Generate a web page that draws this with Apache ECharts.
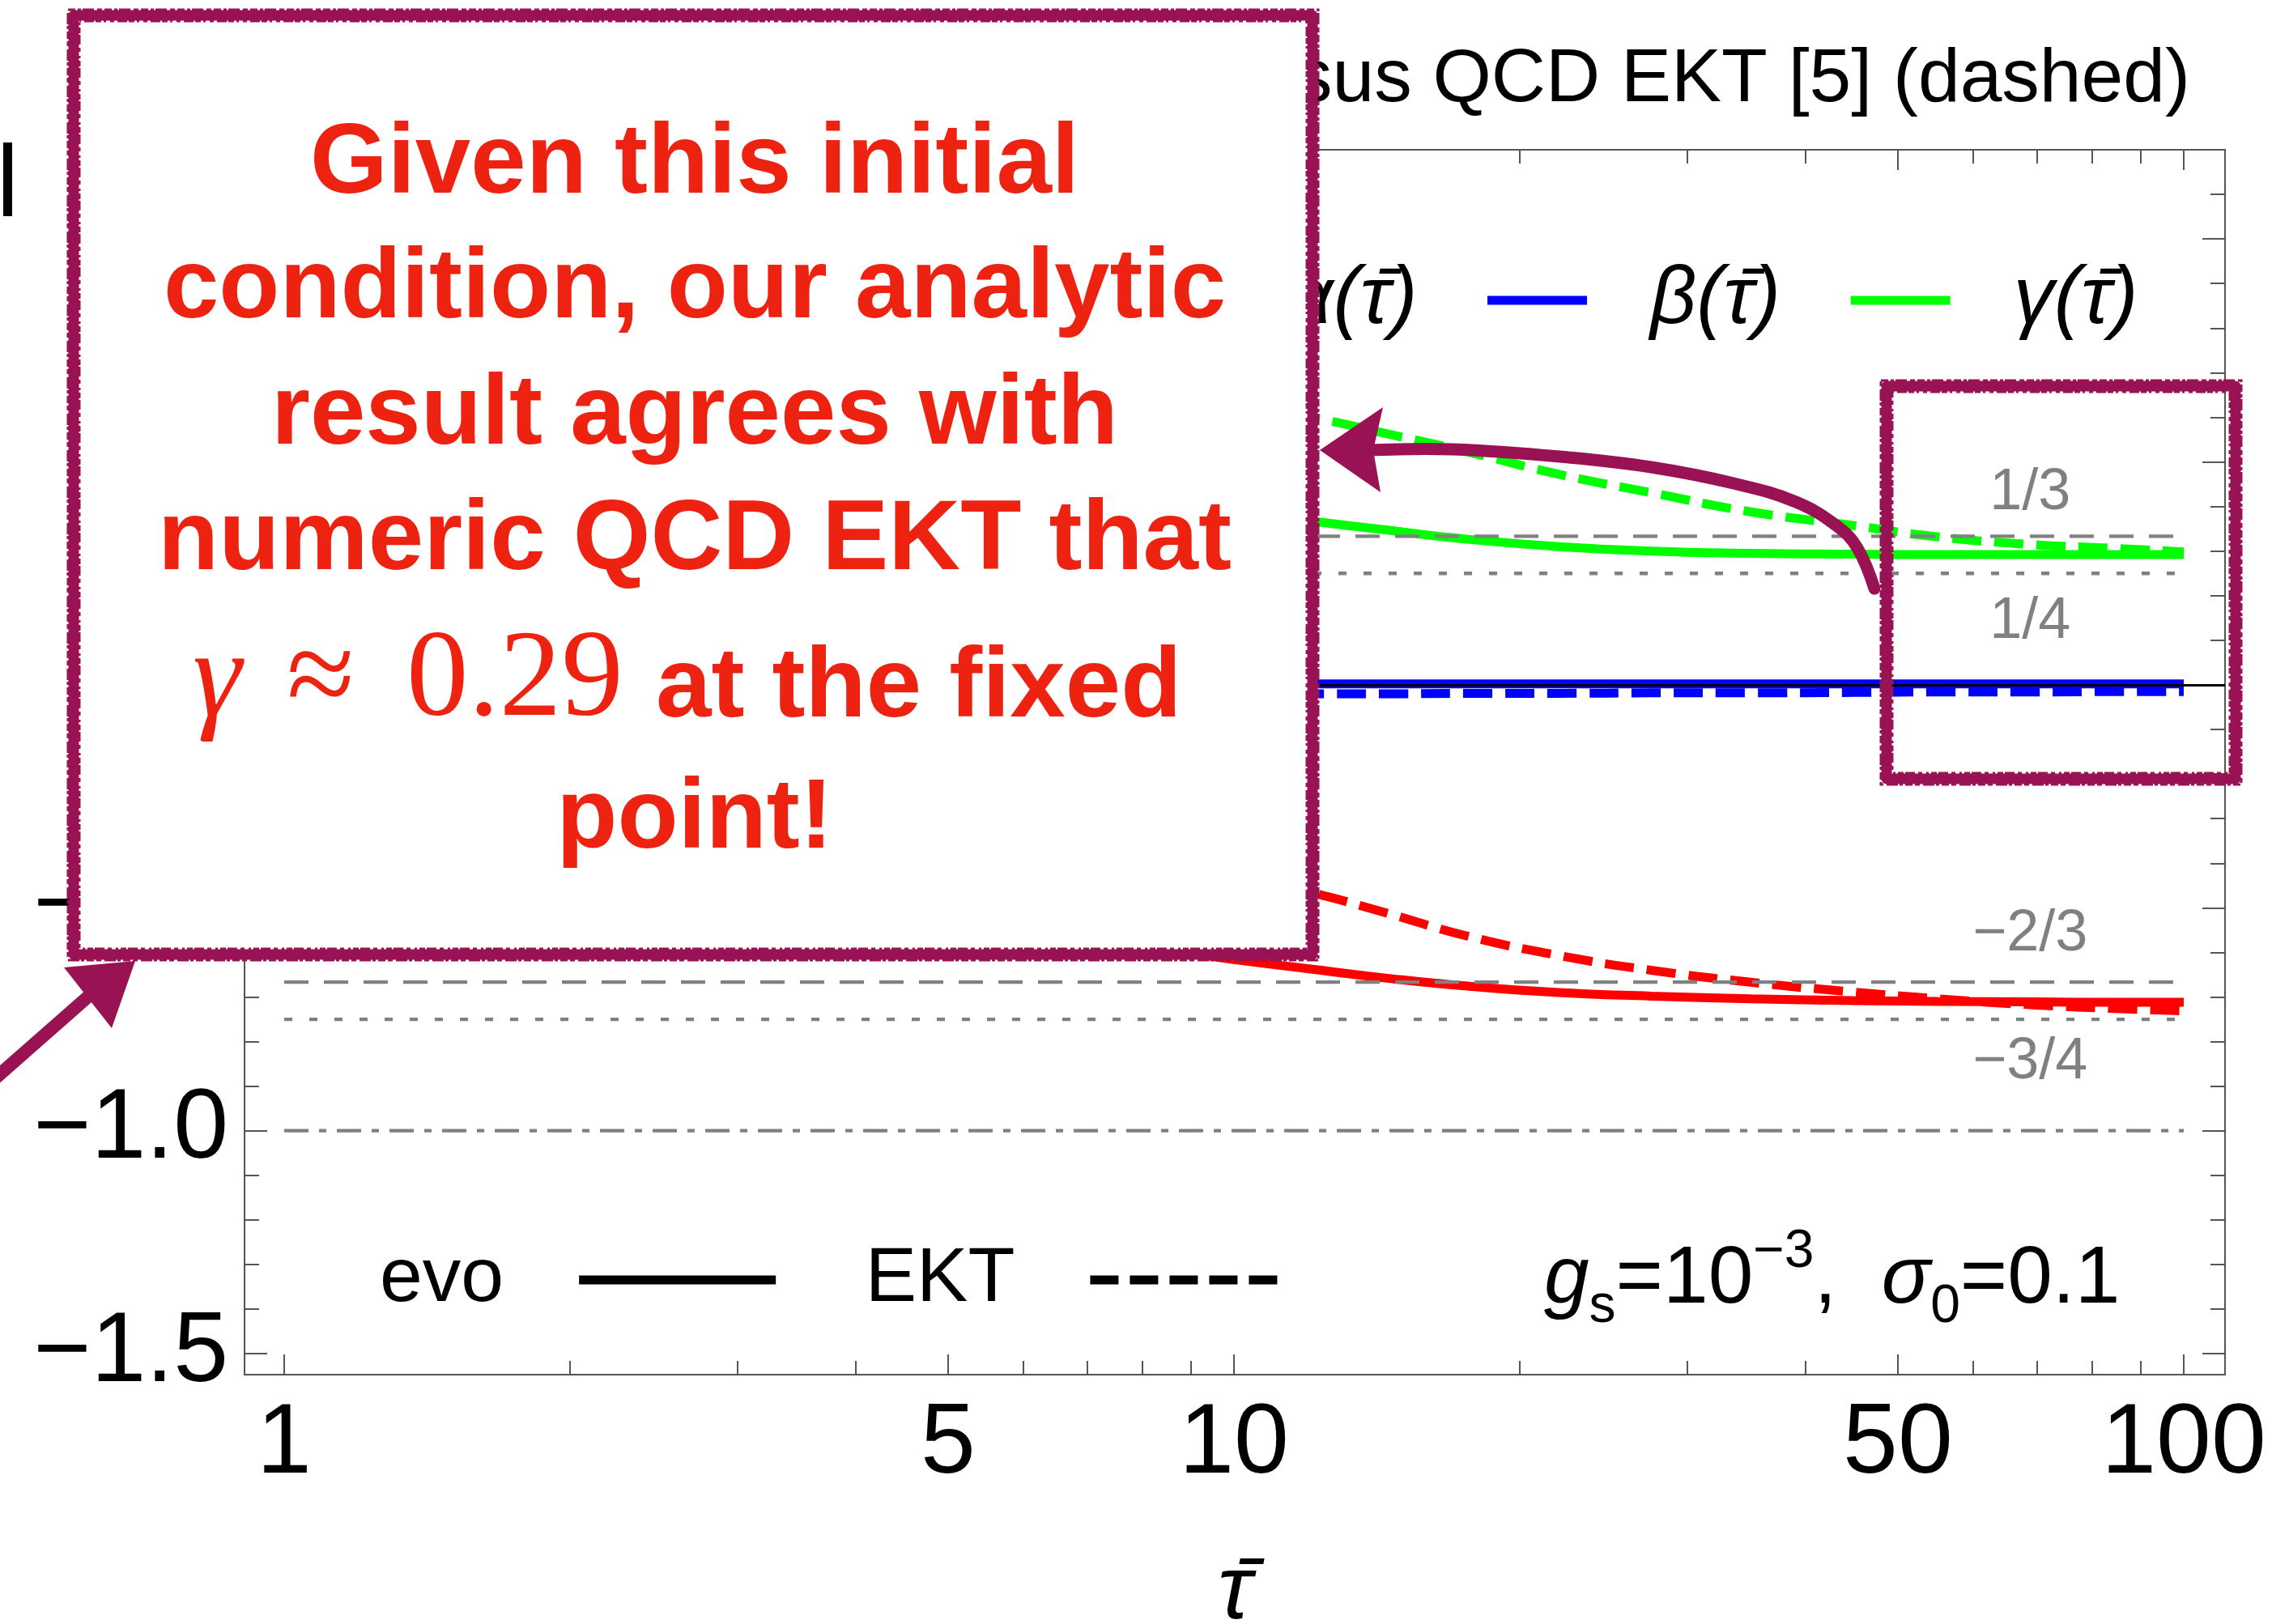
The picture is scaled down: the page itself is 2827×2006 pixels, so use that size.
<!DOCTYPE html>
<html>
<head>
<meta charset="utf-8">
<script src="https://cdn.jsdelivr.net/npm/echarts@6/dist/echarts.min.js"></script>
<style>
  html, body { margin: 0; padding: 0; background: #ffffff; }
  #chart { width: 2827px; height: 2006px; }
</style>
</head>
<body>
<div id="chart"></div>
<script>
// ---- data ---------------------------------------------------------------
// proper time grid (τ̄) shared by all curves
const tau = [1, 2, 4, 6, 8, 10, 12, 14.5, 17.5, 22, 27.5, 35, 45, 55, 70, 85, 100];

// scaling exponents from the evolution equations (solid)
const alphaEvo = [-0.30, -0.42, -0.52, -0.56, -0.588, -0.616, -0.637, -0.658, -0.675, -0.690, -0.698, -0.704, -0.708, -0.710, -0.711, -0.712, -0.712];
const betaEvo  = [0.002, 0.002, 0.002, 0.002, 0.002, 0.002, 0.002, 0.002, 0.002, 0.002, 0.002, 0.002, 0.002, 0.002, 0.002, 0.002, 0.002];
const gammaEvo = [0.62, 0.58, 0.52, 0.46, 0.42, 0.39, 0.368, 0.347, 0.327, 0.310, 0.300, 0.295, 0.293, 0.292, 0.292, 0.292, 0.292];

// scaling exponents from QCD EKT (dashed)
const alphaEkt = [-0.05, -0.12, -0.25, -0.33, -0.39, -0.43, -0.465, -0.512, -0.562, -0.607, -0.640, -0.667, -0.689, -0.704, -0.718, -0.726, -0.731];
const betaEkt  = [-0.020, -0.020, -0.020, -0.020, -0.020, -0.020, -0.020, -0.020, -0.019, -0.019, -0.018, -0.018, -0.017, -0.016, -0.016, -0.015, -0.015];
const gammaEkt = [0.80, 0.76, 0.71, 0.67, 0.64, 0.62, 0.600, 0.563, 0.524, 0.472, 0.431, 0.388, 0.357, 0.332, 0.314, 0.306, 0.298];

// reference exponents
const levelValues = [1 / 3, 1 / 4, -2 / 3, -3 / 4, -1];
const levelLabels = ['1/3', '1/4', '\u22122/3', '\u22123/4', ''];
const levelTauRange = [1, 100];
const levelLabelTau = 68.9;

// ticks
const xMajorTicks = [1, 5, 10, 50, 100];
const xMinorTicks = [2, 3, 4, 6, 7, 8, 9, 20, 30, 40, 60, 70, 80, 90];
const yMajorTicks = [-1.5, -1, -0.5, 0, 0.5, 1];
const yMinorTicks = [-1.4, -1.3, -1.2, -1.1, -0.9, -0.8, -0.7, -0.6, -0.4, -0.3, -0.2, -0.1,
                     0.1, 0.2, 0.3, 0.4, 0.6, 0.7, 0.8, 0.9, 1.1];

// ---- chart ----------------------------------------------------------------
const FONT = '"Liberation Sans", Arial, Helvetica, sans-serif';
const SERIF = '"Liberation Serif", "Times New Roman", serif';
const BOX = '#981254';
const NOTE = '#ee2211';
const FRAME = '#555555';
const CURVE_W = 11;
const lg = v => Math.log10(v);
const TAU_BAR = '\u03C4\u0304';
const names = { a: '\u03B1(' + TAU_BAR + ')', b: '\u03B2(' + TAU_BAR + ')', g: '\u03B3(' + TAU_BAR + ')' };

const X_MIN = -0.0418, X_MAX = 2.0435;
const Y_MIN = -1.547, Y_MAX = 1.2;

function curve(name, ys, color, dashed) {
  return {
    type: 'line', name: name,
    data: tau.map((t, i) => [lg(t), ys[i]]),
    showSymbol: false, symbol: 'none', silent: true,
    smooth: 0.5,
    itemStyle: { color: color },
    lineStyle: { color: color, width: CURVE_W, type: dashed ? [36, 16] : 'solid', cap: 'butt' },
    z: 3
  };
}

const levelStyles = [
  { type: [30, 19], offset: -53 },
  { type: [10, 21], offset: 60 },
  { type: [30, 19], offset: -59 },
  { type: [10, 21], offset: 53 },
  { type: [30, 13, 9, 13], offset: 0 }
];

const levelSeries = levelValues.map((v, i) => ({
  type: 'line', name: 'level' + i,
  data: levelTauRange.map(t => [lg(t), v]),
  showSymbol: false, symbol: 'none', silent: true,
  lineStyle: { color: '#808080', width: 4.3, type: levelStyles[i].type, cap: 'butt' },
  itemStyle: { color: '#808080' },
  z: 4,
  markPoint: levelLabels[i] ? {
    silent: true, symbol: 'circle', symbolSize: 0,
    data: [{ coord: [lg(levelLabelTau), v] }],
    label: {
      show: true, formatter: levelLabels[i], position: 'inside',
      offset: [0, levelStyles[i].offset],
      fontFamily: FONT, fontSize: 72, color: '#808080'
    }
  } : undefined
}));

const zeroAxis = {
  type: 'line', name: 'zero', data: [], silent: true, z: 6,
  markLine: {
    silent: true, symbol: 'none', label: { show: false },
    lineStyle: { color: '#000000', width: 3, type: 'solid' },
    data: [{ yAxis: 0 }]
  }
};

function xAxisDef(position, ticks, len, withLabels) {
  return {
    type: 'value', position: position, min: X_MIN, max: X_MAX, gridIndex: 0,
    axisLine: { show: true, onZero: false, lineStyle: { color: FRAME, width: 2 } },
    axisTick: { show: true, inside: true, length: len, customValues: ticks.map(lg),
                lineStyle: { color: FRAME, width: 2 } },
    axisLabel: withLabels ? {
      show: true, customValues: ticks.map(lg), margin: 26,
      formatter: v => String(Math.round(Math.pow(10, v))),
      fontFamily: FONT, fontSize: 122, lineHeight: 122, color: '#000000'
    } : { show: false },
    splitLine: { show: false },
    name: withLabels ? TAU_BAR : '',
    nameLocation: 'middle', nameGap: 214,
    nameTextStyle: { fontFamily: FONT, fontSize: 112, lineHeight: 112, fontStyle: 'italic', color: '#000000' }
  };
}

function yAxisDef(position, ticks, len, withLabels) {
  return {
    type: 'value', position: position, min: Y_MIN, max: Y_MAX, gridIndex: 0,
    axisLine: { show: true, onZero: false, lineStyle: { color: FRAME, width: 2 } },
    axisTick: { show: true, inside: true, length: len, customValues: ticks,
                lineStyle: { color: FRAME, width: 2 } },
    axisLabel: withLabels ? {
      show: true, customValues: ticks, margin: 20,
      formatter: v => (v < 0 ? '\u2212' : '') + Math.abs(v).toFixed(1),
      fontFamily: FONT, fontSize: 122, lineHeight: 122, color: '#000000'
    } : { show: false },
    splitLine: { show: false }
  };
}

// hand-drawn look: a solid core stroke with ragged thin strokes along both edges
function sketchRect(x, y, w, h, fill) {
  const core = {
    type: 'rect', z: 100, silent: true,
    shape: { x: x, y: y, width: w, height: h },
    style: { fill: fill, stroke: BOX, lineWidth: 13, lineJoin: 'round' }
  };
  const rag = (d, dash, off) => ({
    type: 'rect', z: 100, silent: true,
    shape: { x: x - d, y: y - d, width: w + 2 * d, height: h + 2 * d },
    style: { fill: null, stroke: BOX, lineWidth: 3, lineDash: dash, lineDashOffset: off }
  });
  return [core, rag(7, [9, 3, 4, 2, 14, 4, 6, 3], 0), rag(-7, [5, 4, 12, 2, 7, 3, 3, 5], 3)];
}

const boxLines = [
  { text: 'Given this initial', y: 204 },
  { text: 'condition, our analytic', y: 358 },
  { text: 'result agrees with', y: 514 },
  { text: 'numeric QCD EKT that', y: 669 },
  { text: 'point!', y: 1013 }
];

const noteText = boxLines.map(l => ({
  type: 'text', z: 101, x: 858, y: l.y, silent: true,
  style: { text: l.text, fontFamily: FONT, fontSize: 123, fontWeight: 'bold', fill: NOTE,
           align: 'center', verticalAlign: 'middle' }
}));

const mathParts = [
  { text: '\u03B3', x: 238, italic: true },
  { text: '\u2248', x: 354, italic: false },
  { text: '0.29', x: 502, italic: false }
];
const mathText = mathParts.map(p => ({
  type: 'text', z: 101, x: p.x, y: 843, silent: true,
  style: { text: p.text, fontFamily: SERIF, fontSize: 153, fontStyle: p.italic ? 'italic' : 'normal',
           fill: NOTE, align: 'left', verticalAlign: 'middle' }
}));

const option = {
  animation: false,
  backgroundColor: '#ffffff',
  title: {
    text: 'Evolution (solid) versus QCD EKT [5] (dashed)',
    right: 122, top: 53, padding: 0,
    textStyle: { fontFamily: FONT, fontSize: 93, lineHeight: 93, fontWeight: 'normal', color: '#000000' }
  },
  grid: { left: 302, right: 79, top: 185, bottom: 308, containLabel: false, outerBoundsMode: 'none' },
  legend: [
    {
      data: [names.a, names.b, names.g],
      left: 1383, top: 318, padding: 0, orient: 'horizontal',
      itemWidth: 123, itemHeight: 11, itemGap: 81, selectedMode: false,
      lineStyle: { width: 11 },
      textStyle: { fontFamily: FONT, fontSize: 100, lineHeight: 106, fontStyle: 'italic', color: '#000000',
                   padding: [0, 0, 0, 73] }
    },
    {
      data: ['evo', 'EKT'],
      left: 469, top: 1528, padding: 0, orient: 'horizontal', align: 'right',
      itemWidth: 243, itemHeight: 11, itemGap: 105, selectedMode: false,
      lineStyle: { width: 11 },
      textStyle: { fontFamily: FONT, fontSize: 95, lineHeight: 106, color: '#000000',
                   padding: [0, 88, 0, 0] }
    }
  ],
  xAxis: [
    xAxisDef('bottom', xMajorTicks, 25, true),
    xAxisDef('bottom', xMinorTicks, 17, false),
    xAxisDef('top', xMajorTicks, 25, false),
    xAxisDef('top', xMinorTicks, 17, false)
  ],
  yAxis: [
    yAxisDef('left', yMajorTicks, 28, true),
    yAxisDef('left', yMinorTicks, 18, false),
    yAxisDef('right', yMajorTicks, 28, false),
    yAxisDef('right', yMinorTicks, 18, false)
  ],
  series: [
    curve(names.a, alphaEvo, '#ff0000', false),
    curve(names.b, betaEvo, '#0000ff', false),
    curve(names.g, gammaEvo, '#00ff00', false),
    curve('\u03B1 EKT', alphaEkt, '#ff0000', true),
    curve('\u03B2 EKT', betaEkt, '#0000ff', true),
    curve('\u03B3 EKT', gammaEkt, '#00ff00', true),
    { type: 'line', name: 'evo', data: [], symbol: 'none', itemStyle: { color: '#000' },
      lineStyle: { color: '#000000', width: 11, type: 'solid' } },
    { type: 'line', name: 'EKT', data: [], symbol: 'none', itemStyle: { color: '#000' },
      lineStyle: { color: '#000000', width: 11, type: [35, 14] } }
  ].concat(levelSeries, [zeroAxis]),
  graphic: {
    elements: [
      // parameter note inside the frame
      {
        type: 'text', z: 20, x: 1907, y: 1581, silent: true,
        style: {
          text: '{i|g}{sb|s}{n|=10}{sp|\u22123}{n|,  }{i|\u03C3}{sb|0}{n|=0.1}',
          fontFamily: FONT, fontSize: 100, fill: '#000000', align: 'left', verticalAlign: 'middle',
          rich: {
            n:  { fontFamily: FONT, fontSize: 100, lineHeight: 134, verticalAlign: 'middle', fill: '#000' },
            i:  { fontFamily: FONT, fontSize: 100, lineHeight: 134, verticalAlign: 'middle', fontStyle: 'italic', fill: '#000' },
            sp: { fontFamily: FONT, fontSize: 66, lineHeight: 66, verticalAlign: 'top', fill: '#000' },
            sb: { fontFamily: FONT, fontSize: 66, lineHeight: 66, verticalAlign: 'bottom', fill: '#000' }
          }
        }
      },
      // left edge glyph
      { type: 'rect', z: 20, silent: true, shape: { x: 4, y: 176, width: 11, height: 91 }, style: { fill: '#000000' } },
      // curved arrow to the EKT curve
      {
        type: 'polyline', z: 100, silent: true,
        shape: { points: [[2315, 727], [2294, 677], [2269, 650], [2218, 620], [2141, 597], [2039, 577],
                          [1937, 565], [1794, 555], [1690, 556]], smooth: 0.4 },
        style: { fill: null, stroke: BOX, lineWidth: 15, lineCap: 'round' }
      },
      { type: 'polygon', z: 100, silent: true, shape: { points: [[1630, 556], [1708, 503], [1696, 556], [1705, 608]] }, style: { fill: BOX } },
      // arrow toward the box corner
      {
        type: 'polyline', z: 100, silent: true,
        shape: { points: [[-6, 1332], [110, 1230]] },
        style: { fill: null, stroke: BOX, lineWidth: 16, lineCap: 'round' }
      },
      { type: 'polygon', z: 100, silent: true, shape: { points: [[79, 1195], [167, 1187], [138, 1270]] }, style: { fill: BOX } }
    ].concat(
      sketchRect(91, 19, 1530, 1160, '#ffffff'),
      sketchRect(2330, 477, 431, 485, null),
      noteText, mathText,
      [{
        type: 'text', z: 101, x: 810, y: 851, silent: true,
        style: { text: 'at the fixed', fontFamily: FONT, fontSize: 123, fontWeight: 'bold', fill: NOTE,
                 align: 'left', verticalAlign: 'middle' }
      }]
    )
  }
};

const chart = echarts.init(document.getElementById('chart'), null, { renderer: 'canvas' });
chart.setOption(option);
</script>
</body>
</html>
